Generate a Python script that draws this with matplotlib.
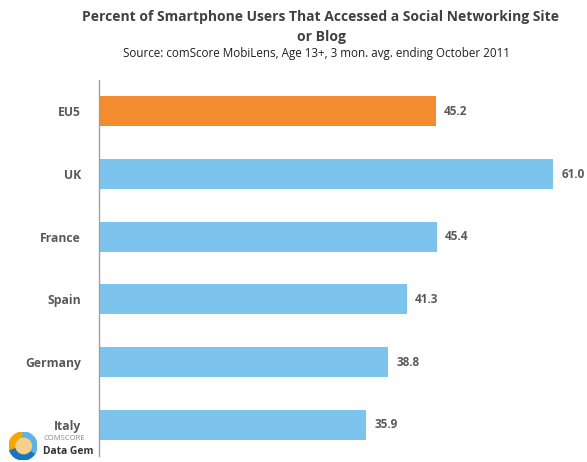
import matplotlib
matplotlib.use("Agg")
import numpy as np
from matplotlib import pyplot as plt
from matplotlib.patches import Wedge, Circle

regions = ["EU5", "UK", "France", "Spain", "Germany", "Italy"]
share = [45.2, 61.0, 45.4, 41.3, 38.8, 35.9]
bar_colors = ["#F28C2E", "#7CC3EE", "#7CC3EE", "#7CC3EE", "#7CC3EE", "#7CC3EE"]

plt.rcParams['font.family'] = ['Open Sans', 'DejaVu Sans']
grey = "#595959"

fig = plt.figure(figsize=(5.87, 4.62), dpi=100)
ax = fig.add_axes([99 / 587, 6 / 462, 484 / 587, 376 / 462])

ypos = np.arange(len(regions))
ax.barh(ypos, share, height=0.48, color=bar_colors)
for y, v in zip(ypos, share):
    ax.text(v + 1.1, y, f"{v:.1f}", va="center", ha="left",
            fontsize=8.5, fontweight="bold", color=grey)

ax.set_xlim(0, 65)
ax.set_ylim(len(regions) - 0.5, -0.5)
ax.set_yticks(ypos)
ax.set_yticklabels(regions, fontsize=8.7, fontweight="bold", color=grey)
ax.tick_params(axis="y", length=0, pad=13)
ax.set_xticks([])
for side in ["top", "right", "bottom"]:
    ax.spines[side].set_visible(False)
ax.spines["left"].set_color("#a0a0a0")
ax.spines["left"].set_linewidth(1.0)

cx = 321 / 587
fig.text(cx, 1 - 17 / 462,
         "Percent of Smartphone Users That Accessed a Social Networking Site",
         ha="center", va="center", fontsize=10, fontweight="bold", color="#404040")
fig.text(cx, 1 - 37 / 462, "or Blog",
         ha="center", va="center", fontsize=10, fontweight="bold", color="#404040")
fig.text(316 / 587, 1 - 54 / 462,
         "Source: comScore MobiLens, Age 13+, 3 mon. avg. ending October 2011",
         ha="center", va="center", fontsize=8.4, color="#202020")

# small logo in the bottom-left corner
logo = fig.add_axes([9 / 587, 2 / 462, 28 / 587, 28 / 462])
logo.set_xlim(-1, 1)
logo.set_ylim(-1, 1)
logo.set_aspect("equal")
logo.axis("off")
for start, end, c in [(90, 200, "#F7A600"), (200, 330, "#1B75BB"), (330, 450, "#5BB4E5")]:
    logo.add_patch(Wedge((0, 0), 1, start, end, width=0.45, color=c))
logo.add_patch(Circle((0.05, 0), 0.55, color="#F5D08A"))
fig.text(44 / 587, 1 - 439 / 462, "COMSCORE", fontsize=5.5, color="#888888", va="center")
fig.text(43 / 587, 1 - 452 / 462, "Data Gem", fontsize=7.4, fontweight="bold",
         color="#333333", va="center")

fig.savefig("out.png", dpi=100)
